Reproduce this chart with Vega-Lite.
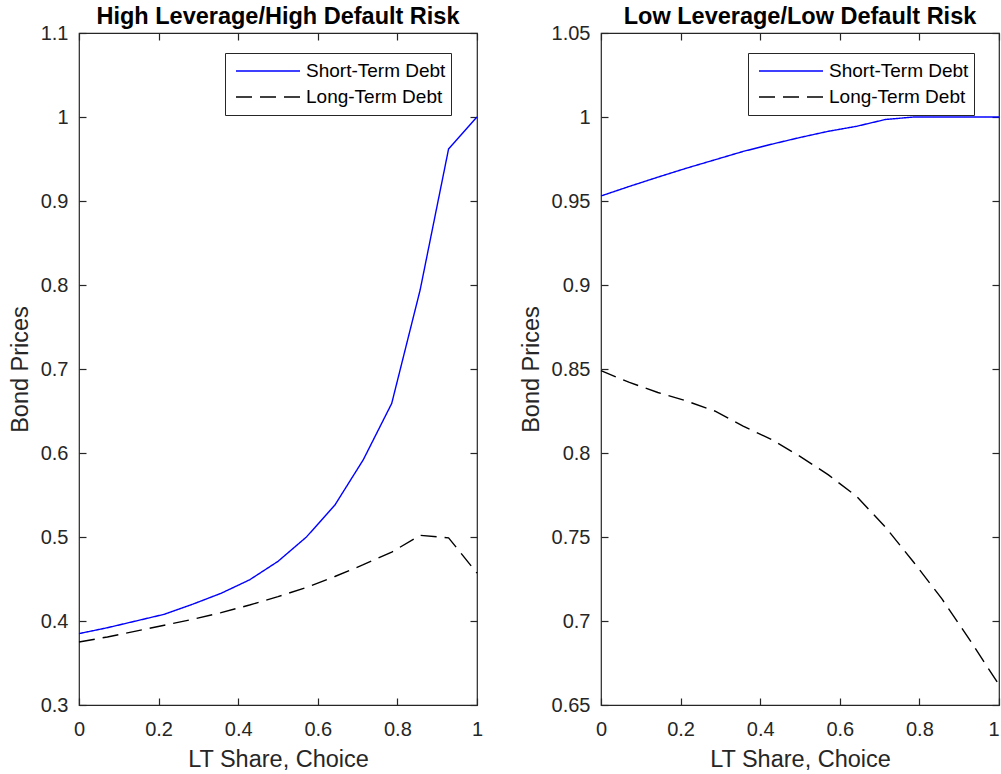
{
  "$schema": "https://vega.github.io/schema/vega-lite/v6.json",
  "background": "white",
  "padding": {"left": 7, "top": 3, "right": 0, "bottom": 5},
  "spacing": 34,
  "datasets": {
    "high": [
      {"x": 0, "price": 0.385, "series": "Short-Term Debt"},
      {"x": 0.0714, "price": 0.392, "series": "Short-Term Debt"},
      {"x": 0.1429, "price": 0.400, "series": "Short-Term Debt"},
      {"x": 0.2143, "price": 0.408, "series": "Short-Term Debt"},
      {"x": 0.2857, "price": 0.420, "series": "Short-Term Debt"},
      {"x": 0.3571, "price": 0.433, "series": "Short-Term Debt"},
      {"x": 0.4286, "price": 0.449, "series": "Short-Term Debt"},
      {"x": 0.5, "price": 0.471, "series": "Short-Term Debt"},
      {"x": 0.5714, "price": 0.500, "series": "Short-Term Debt"},
      {"x": 0.6429, "price": 0.538, "series": "Short-Term Debt"},
      {"x": 0.7143, "price": 0.592, "series": "Short-Term Debt"},
      {"x": 0.7857, "price": 0.659, "series": "Short-Term Debt"},
      {"x": 0.8571, "price": 0.794, "series": "Short-Term Debt"},
      {"x": 0.9286, "price": 0.962, "series": "Short-Term Debt"},
      {"x": 1, "price": 1.0, "series": "Short-Term Debt"},
      {"x": 0, "price": 0.375, "series": "Long-Term Debt"},
      {"x": 0.0714, "price": 0.381, "series": "Long-Term Debt"},
      {"x": 0.1429, "price": 0.388, "series": "Long-Term Debt"},
      {"x": 0.2143, "price": 0.395, "series": "Long-Term Debt"},
      {"x": 0.2857, "price": 0.402, "series": "Long-Term Debt"},
      {"x": 0.3571, "price": 0.410, "series": "Long-Term Debt"},
      {"x": 0.4286, "price": 0.419, "series": "Long-Term Debt"},
      {"x": 0.5, "price": 0.429, "series": "Long-Term Debt"},
      {"x": 0.5714, "price": 0.440, "series": "Long-Term Debt"},
      {"x": 0.6429, "price": 0.453, "series": "Long-Term Debt"},
      {"x": 0.7143, "price": 0.467, "series": "Long-Term Debt"},
      {"x": 0.7857, "price": 0.482, "series": "Long-Term Debt"},
      {"x": 0.8571, "price": 0.502, "series": "Long-Term Debt"},
      {"x": 0.9286, "price": 0.499, "series": "Long-Term Debt"},
      {"x": 1, "price": 0.457, "series": "Long-Term Debt"}
    ],
    "low": [
      {"x": 0, "price": 0.953, "series": "Short-Term Debt"},
      {"x": 0.0714, "price": 0.9587, "series": "Short-Term Debt"},
      {"x": 0.1429, "price": 0.9642, "series": "Short-Term Debt"},
      {"x": 0.2143, "price": 0.9695, "series": "Short-Term Debt"},
      {"x": 0.2857, "price": 0.9745, "series": "Short-Term Debt"},
      {"x": 0.3571, "price": 0.9795, "series": "Short-Term Debt"},
      {"x": 0.4286, "price": 0.9838, "series": "Short-Term Debt"},
      {"x": 0.5, "price": 0.9878, "series": "Short-Term Debt"},
      {"x": 0.5714, "price": 0.9915, "series": "Short-Term Debt"},
      {"x": 0.6429, "price": 0.9945, "series": "Short-Term Debt"},
      {"x": 0.7143, "price": 0.9985, "series": "Short-Term Debt"},
      {"x": 0.7857, "price": 1.0, "series": "Short-Term Debt"},
      {"x": 0.8571, "price": 1.0, "series": "Short-Term Debt"},
      {"x": 0.9286, "price": 1.0, "series": "Short-Term Debt"},
      {"x": 1, "price": 1.0, "series": "Short-Term Debt"},
      {"x": 0, "price": 0.849, "series": "Long-Term Debt"},
      {"x": 0.0714, "price": 0.842, "series": "Long-Term Debt"},
      {"x": 0.1429, "price": 0.836, "series": "Long-Term Debt"},
      {"x": 0.2143, "price": 0.831, "series": "Long-Term Debt"},
      {"x": 0.2857, "price": 0.825, "series": "Long-Term Debt"},
      {"x": 0.3571, "price": 0.816, "series": "Long-Term Debt"},
      {"x": 0.4286, "price": 0.808, "series": "Long-Term Debt"},
      {"x": 0.5, "price": 0.798, "series": "Long-Term Debt"},
      {"x": 0.5714, "price": 0.787, "series": "Long-Term Debt"},
      {"x": 0.6429, "price": 0.774, "series": "Long-Term Debt"},
      {"x": 0.7143, "price": 0.756, "series": "Long-Term Debt"},
      {"x": 0.7857, "price": 0.735, "series": "Long-Term Debt"},
      {"x": 0.8571, "price": 0.713, "series": "Long-Term Debt"},
      {"x": 0.9286, "price": 0.688, "series": "Long-Term Debt"},
      {"x": 1, "price": 0.662, "series": "Long-Term Debt"}
    ]
  },
  "hconcat": [
    {
      "title": {"text": "High Leverage/High Default Risk"},
      "width": 398,
      "height": 672,
      "data": {"name": "high"},
      "layer": [
        {
          "mark": {"type": "line", "strokeWidth": 1.4},
          "encoding": {
            "x": {"field": "x", "type": "quantitative", "scale": {"domain": [0, 1], "nice": false, "zero": false},
                  "axis": {"orient": "bottom", "values": [0, 0.2, 0.4, 0.6, 0.8, 1], "format": "~g", "title": "LT Share, Choice", "labelPadding": 14, "titlePadding": 8}},
            "y": {"field": "price", "type": "quantitative", "scale": {"domain": [0.3, 1.1], "nice": false, "zero": false},
                  "axis": {"orient": "left", "values": [0.3, 0.4, 0.5, 0.6, 0.7, 0.8, 0.9, 1, 1.1], "format": "~g", "title": "Bond Prices", "labelPadding": 11, "titlePadding": 8}},
            "color": {"field": "series", "type": "nominal", "sort": ["Short-Term Debt", "Long-Term Debt"],
                      "scale": {"domain": ["Short-Term Debt", "Long-Term Debt"], "range": ["#0000ff", "#000000"]},
                      "legend": {"orient": "none", "legendX": 146, "legendY": 20, "title": null}},
            "strokeDash": {"field": "series", "type": "nominal", "sort": ["Short-Term Debt", "Long-Term Debt"],
                      "scale": {"domain": ["Short-Term Debt", "Long-Term Debt"], "range": [[1, 0], [16, 8]]},
                      "legend": {"orient": "none", "legendX": 146, "legendY": 20, "title": null}}
          }
        },
        {
          "mark": {"type": "point", "opacity": 0},
          "encoding": {
            "x": {"field": "x", "type": "quantitative",
                  "axis": {"orient": "top", "values": [0, 0.2, 0.4, 0.6, 0.8, 1], "labels": false, "title": null}},
            "y": {"field": "price", "type": "quantitative",
                  "axis": {"orient": "right", "values": [0.3, 0.4, 0.5, 0.6, 0.7, 0.8, 0.9, 1, 1.1], "labels": false, "title": null}}
          }
        }
      ],
      "resolve": {"axis": {"x": "independent", "y": "independent"}}
    },
    {
      "title": {"text": "Low Leverage/Low Default Risk"},
      "width": 398,
      "height": 672,
      "data": {"name": "low"},
      "layer": [
        {
          "mark": {"type": "line", "strokeWidth": 1.4},
          "encoding": {
            "x": {"field": "x", "type": "quantitative", "scale": {"domain": [0, 1], "nice": false, "zero": false},
                  "axis": {"orient": "bottom", "values": [0, 0.2, 0.4, 0.6, 0.8, 1], "format": "~g", "title": "LT Share, Choice", "labelPadding": 14, "titlePadding": 8,
                           "labelAlign": {"condition": {"test": "datum.value === 1", "value": "right"}, "value": "center"}}},
            "y": {"field": "price", "type": "quantitative", "scale": {"domain": [0.65, 1.05], "nice": false, "zero": false},
                  "axis": {"orient": "left", "values": [0.65, 0.7, 0.75, 0.8, 0.85, 0.9, 0.95, 1, 1.05], "format": "~g", "title": "Bond Prices", "labelPadding": 11, "titlePadding": 8}},
            "color": {"field": "series", "type": "nominal", "sort": ["Short-Term Debt", "Long-Term Debt"],
                      "scale": {"domain": ["Short-Term Debt", "Long-Term Debt"], "range": ["#0000ff", "#000000"]},
                      "legend": {"orient": "none", "legendX": 147, "legendY": 20, "title": null}},
            "strokeDash": {"field": "series", "type": "nominal", "sort": ["Short-Term Debt", "Long-Term Debt"],
                      "scale": {"domain": ["Short-Term Debt", "Long-Term Debt"], "range": [[1, 0], [16, 8]]},
                      "legend": {"orient": "none", "legendX": 147, "legendY": 20, "title": null}}
          }
        },
        {
          "mark": {"type": "point", "opacity": 0},
          "encoding": {
            "x": {"field": "x", "type": "quantitative",
                  "axis": {"orient": "top", "values": [0, 0.2, 0.4, 0.6, 0.8, 1], "labels": false, "title": null}},
            "y": {"field": "price", "type": "quantitative",
                  "axis": {"orient": "right", "values": [0.65, 0.7, 0.75, 0.8, 0.85, 0.9, 0.95, 1, 1.05], "labels": false, "title": null}}
          }
        }
      ],
      "resolve": {"axis": {"x": "independent", "y": "independent"}}
    }
  ],
  "resolve": {
    "scale": {"color": "independent", "strokeDash": "independent", "x": "independent", "y": "independent"},
    "legend": {"color": "independent", "strokeDash": "independent"}
  },
  "config": {
    "font": "Liberation Sans",
    "view": {"stroke": "#262626", "strokeWidth": 1.2},
    "axis": {
      "grid": false,
      "domain": false,
      "ticks": true,
      "offset": -7,
      "tickColor": "#262626",
      "tickWidth": 1.2,
      "tickSize": 7,
      "labelFlush": false,
      "labelColor": "#262626",
      "labelFontSize": 20,
      "titleColor": "#262626",
      "titleFontSize": 23.5,
      "titleFontWeight": "normal"
    },
    "legend": {
      "symbolType": "stroke",
      "symbolSize": 4096,
      "symbolStrokeWidth": 1.4,
      "clipHeight": 26,
      "rowPadding": 0,
      "padding": 5,
      "symbolOffset": 5,
      "labelOffset": 5,
      "labelFontSize": 19,
      "labelColor": "#000000",
      "labelLimit": 400,
      "strokeColor": "#262626",
      "fillColor": "#ffffff"
    },
    "title": {
      "fontSize": 23.5,
      "fontWeight": "bold",
      "color": "#000000",
      "anchor": "middle",
      "frame": "group",
      "baseline": "alphabetic",
      "offset": -5
    }
  }
}
